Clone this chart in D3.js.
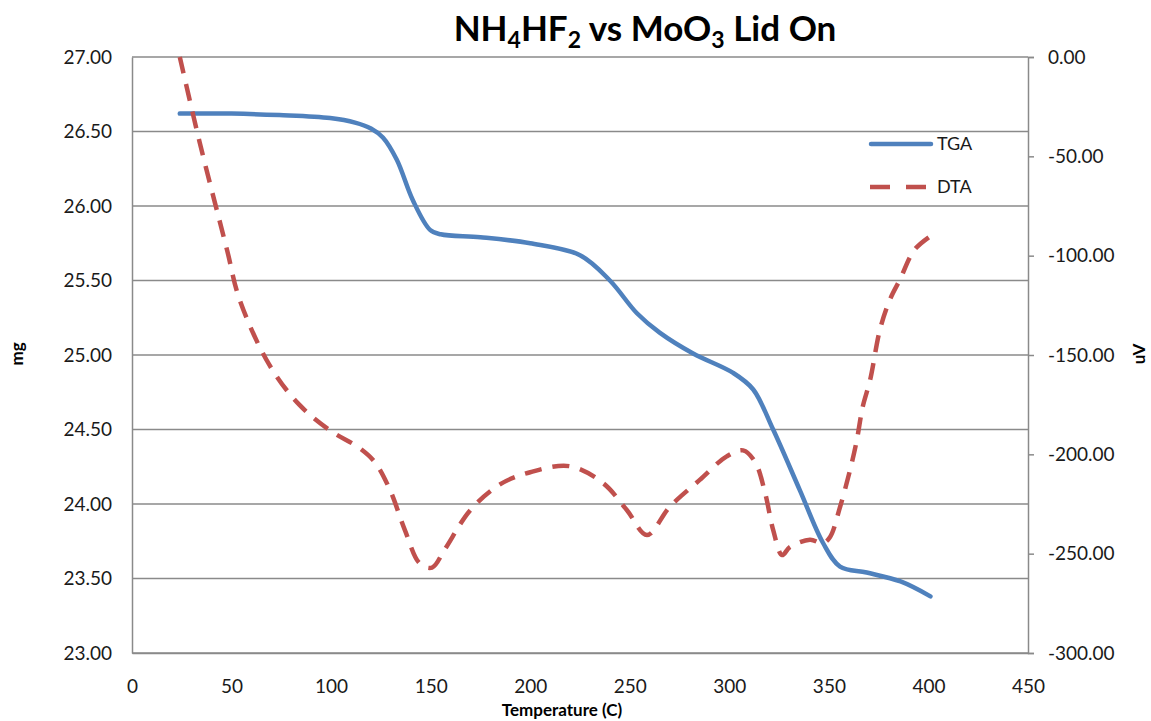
<!DOCTYPE html>
<html><head><meta charset="utf-8">
<script src="https://cdn.jsdelivr.net/npm/d3@7"></script>
<style>body{margin:0;background:#fff}svg{display:block}</style>
</head><body>
<script>
const tgaT  = [24, 50, 74, 99.5, 112, 120, 126, 133, 141, 149.7, 155, 175, 200, 225, 240, 253.6, 265, 281.8, 301.9, 311.9, 322, 335.5, 347, 355.6, 369, 386, 401];
const tgaMg = [26.62, 26.62, 26.61, 26.59, 26.56, 26.52, 26.46, 26.31, 26.04, 25.84, 25.81, 25.79, 25.75, 25.67, 25.50, 25.28, 25.15, 25.01, 24.88, 24.77, 24.50, 24.09, 23.74, 23.58, 23.54, 23.48, 23.38];
const dtaT  = [24, 34, 47.7, 54, 69, 84, 99.5, 114.5, 122, 129.6, 137, 144.6, 150.7, 157, 170, 185, 200, 220, 236.6, 248.5, 258.6, 270, 285, 298.7, 306.9, 313, 318, 322, 326.5, 330.5, 340.5, 347, 350.6, 355.6, 360.6, 364, 367, 370.7, 375.7, 380.7, 385.7, 393, 401.8];
const dtaUv = [0, -43, -97, -122, -155, -175, -188, -197, -204, -218, -238, -255, -257, -248, -228, -215, -209, -206, -214.5, -228, -240.6, -226.5, -213, -201, -198, -204, -219.6, -238, -250.7, -246.6, -243, -244.7, -241.6, -226.5, -208, -193, -176, -162.6, -137, -122, -112, -97, -89.6];
const xTicks = [0, 50, 100, 150, 200, 250, 300, 350, 400, 450];
const yLeftTicks = [23, 23.5, 24, 24.5, 25, 25.5, 26, 26.5, 27];
const yRightTicks = [0, -50, -100, -150, -200, -250, -300];

const W = 1151, H = 721;
const m = {l: 132, r: 1028, t: 57, b: 653};
const svg = d3.select("body").append("svg").attr("width", W).attr("height", H);
const font = "Lato, 'Open Sans', sans-serif";
const fmt2 = d => d3.format(".2f")(d).replace("\u2212", "-");

const x = d3.scaleLinear().domain([0, 450]).range([m.l, m.r]);
const yL = d3.scaleLinear().domain([23, 27]).range([m.b, m.t]);
const yR = d3.scaleLinear().domain([-300, 0]).range([m.b, m.t]);

svg.append("g").selectAll("line").data(yLeftTicks).join("line")
  .attr("x1", m.l).attr("x2", m.r).attr("y1", d => yL(d)).attr("y2", d => yL(d))
  .attr("stroke", "#8a8a8a").attr("stroke-width", 1.5);

const gL = svg.append("g").attr("transform", `translate(${m.l},0)`)
  .call(d3.axisLeft(yL).tickValues(yLeftTicks).tickFormat(fmt2).tickSize(0).tickPadding(20));
const gR = svg.append("g").attr("transform", `translate(${m.r},0)`)
  .call(d3.axisRight(yR).tickValues(yRightTicks).tickFormat(fmt2).tickSize(6).tickPadding(14));
const gB = svg.append("g").attr("transform", `translate(0,${m.b})`)
  .call(d3.axisBottom(x).tickValues(xTicks).tickSize(0).tickPadding(33));

[gL, gR, gB].forEach(g => {
  g.selectAll(".domain").attr("stroke", "#8a8a8a").attr("stroke-width", 1.5);
  g.selectAll(".tick line").attr("stroke", "#8a8a8a").attr("stroke-width", 1.5);
  g.selectAll("text").attr("font-family", font).attr("font-size", 19).attr("fill", "#1a1a1a");
});
gB.selectAll("text").attr("dy", "0.35em");

const tga = tgaT.map((t, i) => [t, tgaMg[i]]);
const dta = dtaT.map((t, i) => [t, dtaUv[i]]);
svg.append("path").datum(tga)
  .attr("d", d3.line().x(d => x(d[0])).y(d => yL(d[1])).curve(d3.curveCatmullRom.alpha(0.5)))
  .attr("fill", "none").attr("stroke", "#4F81BD").attr("stroke-width", 4.5).attr("stroke-linecap", "round");
svg.append("path").datum(dta)
  .attr("d", d3.line().x(d => x(d[0])).y(d => yR(d[1])).curve(d3.curveCatmullRom.alpha(0.5)))
  .attr("fill", "none").attr("stroke", "#C0504D").attr("stroke-width", 4.5)
  .attr("stroke-dasharray", "17,11");

const lg = svg.append("g");
lg.append("line").attr("x1", 871).attr("x2", 931).attr("y1", 144).attr("y2", 144)
  .attr("stroke", "#4F81BD").attr("stroke-width", 4.5).attr("stroke-linecap", "round");
lg.append("line").attr("x1", 870).attr("x2", 926).attr("y1", 187).attr("y2", 187)
  .attr("stroke", "#C0504D").attr("stroke-width", 4.5).attr("stroke-dasharray", "20,16");
lg.append("text").attr("x", 937).attr("y", 144).attr("dy", "0.35em").text("TGA")
  .attr("font-family", font).attr("font-size", 18).attr("fill", "#1a1a1a");
lg.append("text").attr("x", 937).attr("y", 187).attr("dy", "0.35em").text("DTA")
  .attr("font-family", font).attr("font-size", 18).attr("fill", "#1a1a1a");

const title = svg.append("text").attr("x", 645).attr("y", 41).attr("text-anchor", "middle")
  .attr("font-family", font).attr("font-weight", "bold").attr("font-size", 35).attr("fill", "#000");
[["NH", 0], ["4", 1], ["HF", 0], ["2", 1], [" vs MoO", 0], ["3", 1], [" Lid On", 0]].forEach(([s, sub]) => {
  title.append("tspan").text(s).attr("font-size", sub ? 23 : 35).attr("dy", sub ? 7 : (s === "NH" ? 0 : -7));
});

svg.append("text").attr("transform", `translate(23,354) rotate(-90)`).attr("text-anchor", "middle")
  .attr("font-family", font).attr("font-weight", "bold").attr("font-size", 17).text("mg");
svg.append("text").attr("transform", `translate(1145,354) rotate(-90)`).attr("text-anchor", "middle")
  .attr("font-family", font).attr("font-weight", "bold").attr("font-size", 17).text("uV");
svg.append("text").attr("x", 562).attr("y", 716).attr("text-anchor", "middle")
  .attr("font-family", font).attr("font-weight", "bold").attr("font-size", 17).text("Temperature (C)");
</script>
</body></html>
